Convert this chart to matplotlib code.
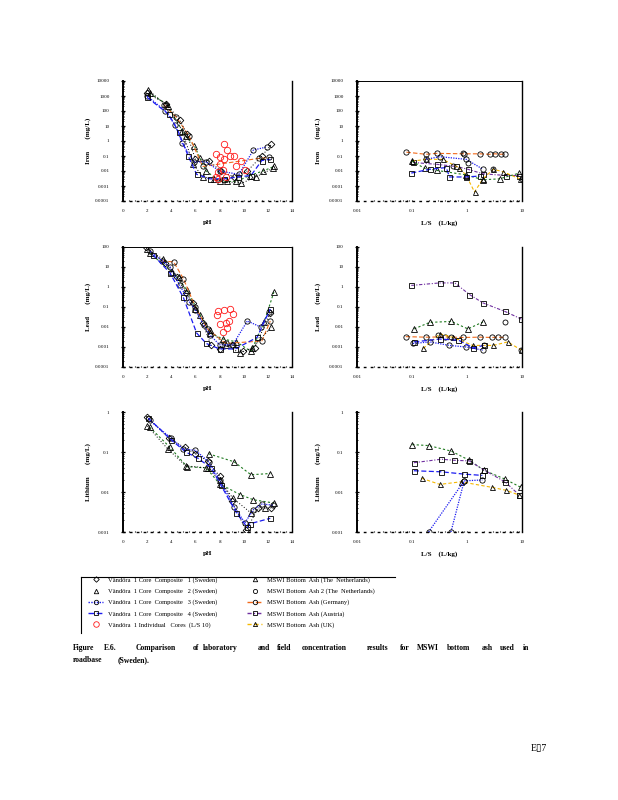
import numpy as np
import matplotlib
matplotlib.use('Agg')
import matplotlib.pyplot as plt
from matplotlib.lines import Line2D
from matplotlib.ticker import LogLocator, MultipleLocator, FuncFormatter, NullFormatter

plt.rcParams['font.family'] = ['Liberation Serif', 'DejaVu Serif']

W, H = 618, 800

# ------------------------------------------------------------------
# data
# ------------------------------------------------------------------
# Iron vs pH
fe_c1_ph = [2.0, 3.6, 4.7, 5.3, 6.0, 7.1, 8.1, 9.2, 10.3, 11.5, 12.3]
fe_c1 = [1500, 300, 25, 3, 0.06, 0.05, 0.01, 0.004, 0.01, 0.1, 0.6]
fe_c2_ph = [2.1, 3.7, 4.9, 5.8, 6.6, 7.5, 8.6, 9.8, 11.0, 12.4]
fe_c2 = [2500, 200, 5, 0.03, 0.004, 0.003, 0.002, 0.0015, 0.004, 0.015]
fe_c3_ph = [2.0, 3.5, 4.3, 4.9, 5.9, 6.9, 8.0, 9.6, 10.8, 11.9]
fe_c3 = [1000, 100, 12, 0.7, 0.04, 0.04, 0.01, 0.006, 0.25, 0.4]
fe_c4_ph = [2.0, 3.8, 4.6, 5.4, 6.1, 7.2, 8.4, 9.5, 10.6, 11.5, 12.2]
fe_c4 = [800, 60, 4, 0.1, 0.006, 0.003, 0.003, 0.004, 0.005, 0.05, 0.06]
fe_nl_ph = [2.2, 3.6, 5.2, 5.9, 6.4, 6.9, 8.0, 9.4, 10.5, 11.6, 12.5]
fe_nl = [1500, 300, 2, 0.5, 0.07, 0.01, 0.002, 0.002, 0.005, 0.01, 0.02]
fe_de_ph = [3.4, 4.4, 5.5, 6.6, 11.3, 12.1]
fe_de = [250, 40, 2, 0.02, 0.07, 0.08]
fe_cores_ph = [8.4, 7.7, 8.0, 8.4, 8.9, 8.0, 8.3, 7.9, 7.7, 8.5, 9.4, 9.8, 10.1, 9.2, 7.9, 8.6]
fe_cores = [0.6, 0.14, 0.08, 0.06, 0.1, 0.03, 0.012, 0.008, 0.004, 0.004, 0.02, 0.05,
            0.012, 0.1, 0.003, 0.25]

# Iron vs L/S
fe_de_ls = [0.079, 0.18, 0.28, 0.9, 1.7, 2.6, 3.2, 4.2, 4.9]
fe_de_v = [0.18, 0.13, 0.15, 0.14, 0.14, 0.13, 0.14, 0.13, 0.14]
fe_at_ls = [0.104, 0.28, 0.64, 1.04, 1.95, 5.2, 9.0]
fe_at_v = [0.037, 0.028, 0.02, 0.013, 0.0065, 0.005, 0.005]
fe_uk_ls = [0.1, 0.18, 0.36, 0.73, 0.97, 1.37, 1.95, 3.0, 4.5, 9.1]
fe_uk_v = [0.045, 0.06, 0.06, 0.016, 0.005, 0.0004, 0.003, 0.013, 0.009, 0.003]
fe_c3_ls = [0.18, 0.32, 0.97, 1.95]
fe_c3_v = [0.06, 0.09, 0.06, 0.013]
fe_c4_ls = [0.097, 0.21, 0.42, 0.48, 0.97, 1.7]
fe_c4_v = [0.0073, 0.013, 0.017, 0.004, 0.004, 0.0046]
fe_nl_ls = [0.1, 0.17, 0.28, 0.97, 1.95, 3.9, 9.0]
fe_nl_v = [0.045, 0.015, 0.011, 0.0055, 0.0026, 0.003, 0.0073]
fe_nl2_ls = [0.84, 0.56, 1.04, 3.0, 10.0]
fe_nl2_v = [0.15, 0.02, 0.035, 0.013, 0.003]

# Lead vs pH
pb_c1_ph = [1.9, 3.5, 4.5, 5.2, 5.8, 6.6, 7.3, 8.0, 9.0, 9.9, 10.9, 12.2]
pb_c1 = [100, 15, 3, 0.5, 0.15, 0.015, 0.0012, 0.0008, 0.0013, 0.0006, 0.0009, 0.05]
pb_c2_ph = [2.0, 3.3, 4.6, 6.0, 7.2, 8.5, 9.7, 10.7, 12.3]
pb_c2 = [80, 25, 3, 0.08, 0.007, 0.0012, 0.0005, 0.0009, 0.01]
pb_c3_ph = [2.25, 3.9, 4.7, 5.5, 6.0, 6.7, 7.2, 8.0, 9.1, 10.3, 11.4, 12.1]
pb_c3 = [60, 10, 1.2, 0.18, 0.07, 0.012, 0.004, 0.0013, 0.0013, 0.02, 0.01, 0.056]
pb_c4_ph = [2.5, 3.9, 5.0, 6.1, 6.9, 8.0, 9.3, 11.1, 12.2]
pb_c4 = [40, 5, 0.3, 0.005, 0.0015, 0.0008, 0.0008, 0.003, 0.08]
pb_nl_ph = [2.2, 4.1, 5.3, 6.4, 7.2, 8.3, 9.4, 10.6, 11.7, 12.5]
pb_nl = [50, 5.6, 0.7, 0.04, 0.005, 0.0025, 0.0018, 0.0006, 0.018, 0.56]
pb_de_ph = [3.2, 4.2, 5.0, 6.0, 7.0, 8.5, 11.5, 12.2]
pb_de = [20, 18, 2.6, 0.1, 0.008, 0.0015, 0.002, 0.02]
pb_cores_ph = [7.9, 8.4, 8.9, 9.1, 8.0, 8.5, 8.3, 8.6, 7.8, 8.8]
pb_cores = [0.06, 0.07, 0.08, 0.045, 0.014, 0.016, 0.0055, 0.009, 0.04, 0.02]

# Lead vs L/S
pb_at_ls = [0.097, 0.32, 0.6, 1.11, 1.95, 4.9, 9.7]
pb_at_v = [1.2, 1.6, 1.6, 0.42, 0.16, 0.06, 0.025]
pb_nl_ls = [0.11, 0.21, 0.52, 1.04, 1.95]
pb_nl_v = [0.0081, 0.017, 0.019, 0.008, 0.018]
pb_nl2_ls = [0.3, 0.52, 2.0, 4.9, 9.7]
pb_nl2_v = [0.004, 0.003, 0.0012, 0.018, 0.0007]
pb_de_ls = [0.077, 0.18, 0.4, 0.85, 1.7, 2.8, 3.6, 4.9]
pb_de_v = [0.0033, 0.0031, 0.0032, 0.003, 0.0031, 0.003, 0.0031, 0.003]
pb_uk_ls = [0.16, 0.32, 0.56, 1.28, 3.0, 5.5, 9.7]
pb_uk_v = [0.00085, 0.0046, 0.003, 0.0012, 0.0012, 0.0018, 0.0007]
pb_c3_ls = [0.104, 0.21, 0.48, 0.97, 1.95]
pb_c3_v = [0.0015, 0.0018, 0.0012, 0.001, 0.0007]
pb_c4_ls = [0.11, 0.32, 0.7, 1.3, 2.0]
pb_c4_v = [0.0018, 0.0025, 0.0022, 0.0009, 0.0012]

# Lithium vs pH
li_c1_ph = [2.0, 3.8, 5.1, 6.0, 7.0, 8.0, 9.0, 10.2, 11.2, 12.3]
li_c1 = [0.75, 0.22, 0.13, 0.09, 0.06, 0.025, 0.006, 0.0011, 0.004, 0.004]
li_c2_ph = [2.0, 3.7, 5.2, 7.0, 8.0, 9.1, 10.6, 11.8]
li_c2 = [0.45, 0.12, 0.045, 0.04, 0.02, 0.007, 0.003, 0.004]
li_c3_ph = [2.2, 4.0, 5.0, 6.0, 7.1, 8.0, 9.2, 10.1, 10.8, 11.5, 12.4]
li_c3 = [0.62, 0.22, 0.12, 0.11, 0.057, 0.02, 0.0043, 0.0017, 0.0036, 0.005, 0.0047]
li_c4_ph = [2.1, 4.0, 5.2, 6.2, 7.3, 8.1, 9.4, 10.3, 10.5, 12.2]
li_c4 = [0.7, 0.2, 0.1, 0.07, 0.04, 0.015, 0.003, 0.0013, 0.0016, 0.0022]
li_nl_ph = [2.2, 3.9, 5.3, 6.9, 8.0, 9.7, 10.8, 12.5]
li_nl = [0.42, 0.13, 0.043, 0.04, 0.016, 0.0086, 0.0064, 0.0053]
li_nlb_ph = [7.1, 9.2, 10.6, 12.2]
li_nlb = [0.09, 0.057, 0.027, 0.029]

# Lithium vs L/S
li_nl_ls = [0.101, 0.2, 0.52, 1.1, 2.03, 4.9, 9.6]
li_nl_v = [0.153, 0.145, 0.105, 0.062, 0.035, 0.021, 0.013]
li_at_ls = [0.108, 0.34, 0.59, 1.1, 2.0, 4.9, 9.0]
li_at_v = [0.054, 0.066, 0.062, 0.06, 0.036, 0.018, 0.0083]
li_c4_ls = [0.108, 0.34, 0.89, 1.9]
li_c4_v = [0.034, 0.032, 0.028, 0.026]
li_uk_ls = [0.15, 0.32, 0.78, 2.9, 5.2, 9.0]
li_uk_v = [0.022, 0.0155, 0.018, 0.013, 0.011, 0.0083]
li_c3_ls = [0.2, 0.89, 1.9]
li_c3_v = [0.001, 0.019, 0.02]
li_c3b_ls = [0.51, 0.89]
li_c3b_v = [0.001, 0.019]

legend_left = ['Vändöra  1 Core  Composite   1 (Sweden)',
               'Vändöra  1 Core  Composite   2 (Sweden)',
               'Vändöra  1 Core  Composite   3 (Sweden)',
               'Vändöra  1 Core  Composite   4 (Sweden)',
               'Vändöra  1 Individual   Cores  (L/S 10)']
legend_right = ['MSWI Bottom  Ash (The  Netherlands)',
                'MSWI Bottom  Ash 2 (The  Netherlands)',
                'MSWI Bottom  Ash (Germany)',
                'MSWI Bottom  Ash (Austria)',
                'MSWI Bottom  Ash (UK)']

caption_1 = ['Figure', 'E.6.', 'Comparison', 'of', 'laboratory', 'and', 'field',
             'concentration', 'results', 'for', 'MSWI', 'bottom', 'ash', 'used', 'in']
caption_1_x = [73, 104, 136, 193, 203, 258, 277, 302, 367, 400, 417, 447, 482, 500, 523]
caption_2 = ['roadbase', '(Sweden).']
caption_2_x = [73, 118]

# ------------------------------------------------------------------
BLUE = '#1c1cf0'
GREEN = '#1f7a1f'
ORANGE = '#f26a1b'
PURPLE = '#7030a0'
GOLD = '#f5b800'
RED = '#ff1a1a'

STY = {
    'c1': dict(color='black', ls=(0, (1, 2)), lw=0.7, marker='D', ms=3.4),
    'c2': dict(color='black', ls=(0, (1, 2)), lw=0.7, marker='^', ms=3.8),
    'c3': dict(color=BLUE, ls=(0, (1, 1)), lw=0.9, marker='o', ms=3.8),
    'c4': dict(color=BLUE, ls=(0, (4, 2)), lw=0.9, marker='s', ms=3.6),
    'cores': dict(color=RED, ls='none', lw=0.7, marker='o', ms=4.6),
    'nl': dict(color=GREEN, ls=(0, (2, 2)), lw=0.8, marker='^', ms=3.8),
    'nl2': dict(color='black', ls='none', lw=0.7, marker='o', ms=3.6),
    'de': dict(color=ORANGE, ls=(0, (4, 2)), lw=0.8, marker='o', ms=3.8),
    'at': dict(color=PURPLE, ls=(0, (3, 1.5, 1, 1.5)), lw=0.8, marker='s', ms=3.6),
    'uk': dict(color=GOLD, ls=(0, (3, 2)), lw=0.8, marker='^', ms=3.6),
}


def draw(ax, key, x, y):
    s = STY[key]
    mec = 'black' if key not in ('cores',) else RED
    ax.plot(x, y, color=s['color'], ls=s['ls'], lw=s['lw'], marker=s['marker'],
            ms=s['ms'], mfc='none', mec=mec, mew=0.6)


fmt = FuncFormatter(lambda v, p: '%g' % v)


def style_axes(ax, ylim, log_x, ylabel, xlabel, top):
    ax.set_yscale('log')
    ax.set_ylim(*ylim)
    if log_x:
        ax.set_xscale('log')
        ax.set_xlim(0.01, 10)
        ax.xaxis.set_major_locator(LogLocator(base=10, numticks=10))
        ax.xaxis.set_minor_locator(LogLocator(base=10, subs=np.arange(2, 10), numticks=10))
        ax.xaxis.set_minor_formatter(NullFormatter())
    else:
        ax.set_xlim(0, 14)
        ax.xaxis.set_major_locator(MultipleLocator(2))
        ax.xaxis.set_minor_locator(MultipleLocator(0.5))
    ax.xaxis.set_major_formatter(fmt)
    ax.yaxis.set_major_locator(LogLocator(base=10, numticks=20))
    ax.yaxis.set_minor_locator(LogLocator(base=10, subs=np.arange(2, 10), numticks=20))
    ax.yaxis.set_major_formatter(fmt)
    ax.yaxis.set_minor_formatter(NullFormatter())
    ax.tick_params(axis='y', which='major', direction='inout', length=3.5, width=0.9,
                   labelsize=3.6, pad=8, right=False)
    ax.tick_params(axis='y', which='minor', direction='inout', length=1.8, width=0.6, right=False)
    ax.tick_params(axis='x', which='both', direction='in', length=0.8, width=0.8,
                   labelsize=3.6, pad=6, top=False)
    ax.spines['left'].set_linewidth(1.4)
    ax.spines['right'].set_linewidth(1.0)
    ax.spines['bottom'].set_linestyle((0, (1, 4)))
    ax.spines['bottom'].set_linewidth(1.0)
    ax.spines['top'].set_visible(top)
    ax.spines['top'].set_linewidth(0.7)
    ax.set_xlabel(xlabel, fontsize=5, fontweight='bold')
    ax.xaxis.set_label_coords(0.5, -0.16)
    ax.set_ylabel(ylabel, fontsize=5, fontweight='bold')


fig = plt.figure(figsize=(W / 100, H / 100), dpi=100)


def add_ax(x0, x1, y0, y1):
    return fig.add_axes([x0 / W, 1 - y1 / H, (x1 - x0) / W, (y1 - y0) / H])


LX = (123, 292)
RX = (357, 522)
ROWS = [(81, 201), (247, 367), (412, 532)]

ax1 = add_ax(*LX, *ROWS[0])
ax2 = add_ax(*RX, *ROWS[0])
ax3 = add_ax(*LX, *ROWS[1])
ax4 = add_ax(*RX, *ROWS[1])
ax5 = add_ax(*LX, *ROWS[2])
ax6 = add_ax(*RX, *ROWS[2])

# Iron
draw(ax1, 'nl', fe_nl_ph, fe_nl)
draw(ax1, 'de', fe_de_ph, fe_de)
draw(ax1, 'c1', fe_c1_ph, fe_c1)
draw(ax1, 'c2', fe_c2_ph, fe_c2)
draw(ax1, 'c3', fe_c3_ph, fe_c3)
draw(ax1, 'c4', fe_c4_ph, fe_c4)
draw(ax1, 'cores', fe_cores_ph, fe_cores)
style_axes(ax1, (1e-4, 1e4), False, 'Iron       (mg/L)', 'pH', False)

draw(ax2, 'de', fe_de_ls, fe_de_v)
draw(ax2, 'at', fe_at_ls, fe_at_v)
draw(ax2, 'uk', fe_uk_ls, fe_uk_v)
draw(ax2, 'nl', fe_nl_ls, fe_nl_v)
draw(ax2, 'c3', fe_c3_ls, fe_c3_v)
draw(ax2, 'c4', fe_c4_ls, fe_c4_v)
draw(ax2, 'nl2', fe_nl2_ls, fe_nl2_v)
style_axes(ax2, (1e-4, 1e4), True, 'Iron       (mg/L)', 'L/S    (L/kg)', True)

# Lead
draw(ax3, 'nl', pb_nl_ph, pb_nl)
draw(ax3, 'de', pb_de_ph, pb_de)
draw(ax3, 'c1', pb_c1_ph, pb_c1)
draw(ax3, 'c2', pb_c2_ph, pb_c2)
draw(ax3, 'c3', pb_c3_ph, pb_c3)
draw(ax3, 'c4', pb_c4_ph, pb_c4)
draw(ax3, 'cores', pb_cores_ph, pb_cores)
style_axes(ax3, (1e-4, 1e2), False, 'Lead       (mg/L)', 'pH', True)

draw(ax4, 'at', pb_at_ls, pb_at_v)
draw(ax4, 'nl', pb_nl_ls, pb_nl_v)
draw(ax4, 'de', pb_de_ls, pb_de_v)
draw(ax4, 'uk', pb_uk_ls, pb_uk_v)
draw(ax4, 'c3', pb_c3_ls, pb_c3_v)
draw(ax4, 'c4', pb_c4_ls, pb_c4_v)
draw(ax4, 'nl2', pb_nl2_ls, pb_nl2_v)
style_axes(ax4, (1e-4, 1e2), True, 'Lead       (mg/L)', 'L/S    (L/kg)', False)

# Lithium
draw(ax5, 'nl', li_nl_ph, li_nl)
draw(ax5, 'nl', li_nlb_ph, li_nlb)
draw(ax5, 'c1', li_c1_ph, li_c1)
draw(ax5, 'c2', li_c2_ph, li_c2)
draw(ax5, 'c3', li_c3_ph, li_c3)
draw(ax5, 'c4', li_c4_ph, li_c4)
style_axes(ax5, (1e-3, 1), False, 'Lithium       (mg/L)', 'pH', False)

draw(ax6, 'nl', li_nl_ls, li_nl_v)
draw(ax6, 'at', li_at_ls, li_at_v)
draw(ax6, 'c4', li_c4_ls, li_c4_v)
draw(ax6, 'uk', li_uk_ls, li_uk_v)
draw(ax6, 'c3', li_c3_ls, li_c3_v)
draw(ax6, 'c3', li_c3b_ls, li_c3b_v)
style_axes(ax6, (1e-3, 1), True, 'Lithium       (mg/L)', 'L/S    (L/kg)', False)

for ax in (ax1, ax3, ax5):
    ax.yaxis.set_label_coords(-0.19, 0.5)
for ax in (ax2, ax4, ax6):
    ax.yaxis.set_label_coords(-0.22, 0.5)


# legend -----------------------------------------------------------
def proxy(key, line=True):
    s = STY[key]
    mec = RED if key == 'cores' else 'black'
    return Line2D([], [], color=s['color'], ls=s['ls'] if line else 'none', lw=1.0,
                  marker=s['marker'], ms=s['ms'] - 0.6, mfc='none', mec=mec, mew=0.6)


h_left = [proxy('c1', False), proxy('c2', False), proxy('c3'), proxy('c4'), proxy('cores', False)]
h_right = [proxy('nl', False), proxy('nl2', False), proxy('de'), proxy('at'), proxy('uk')]

leg_kw = dict(loc='upper left', frameon=False, fontsize=4.7, handlelength=2.3,
              handletextpad=0.8, labelspacing=0.82, borderpad=0, borderaxespad=0)
fig.legend(h_left, legend_left, bbox_to_anchor=(88 / W, 1 - 577 / H), **leg_kw)
fig.legend(h_right, legend_right, bbox_to_anchor=(247 / W, 1 - 577 / H), **leg_kw)
fig.add_artist(Line2D([81 / W, 395 / W], [1 - 577 / H] * 2, color='black', lw=0.8))
fig.add_artist(Line2D([81 / W] * 2, [1 - 577 / H, 1 - 633 / H], color='black', lw=0.8))

# caption ----------------------------------------------------------
for word, x in zip(caption_1, caption_1_x):
    fig.text(x / W, 1 - 648 / H, word, fontsize=5.5, fontweight='bold', va='center')
for word, x in zip(caption_2, caption_2_x):
    fig.text(x / W, 1 - 660 / H, word, fontsize=5.5, fontweight='bold', va='center')

fig.text(531 / W, 1 - 749 / H, 'E\u25af7', fontsize=7, va='center')

fig.savefig('out.png', dpi=100)
